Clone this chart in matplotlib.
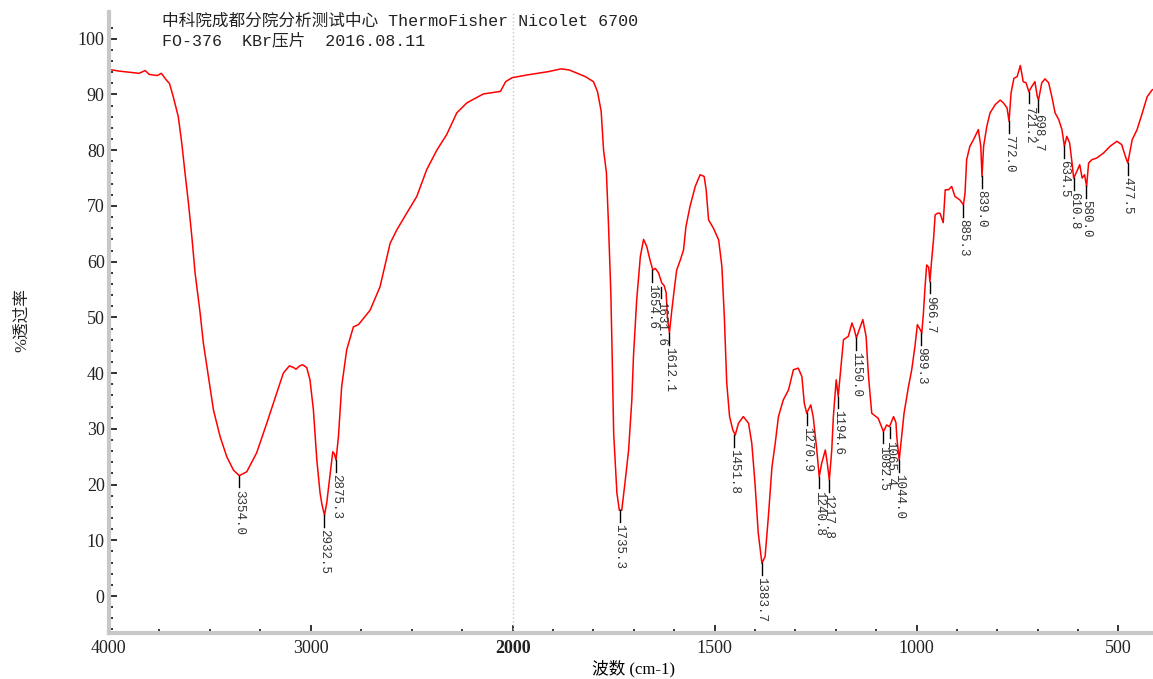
import numpy as np
import matplotlib
matplotlib.use("Agg")
import matplotlib.pyplot as plt
from matplotlib.ticker import FixedLocator

plt.rcParams['font.family'] = ['Liberation Mono', 'Noto Sans CJK SC', 'DejaVu Sans']

# spectrum (wavenumber cm-1, %T)
wavenumber = [4000, 3950, 3900, 3850, 3820, 3800, 3760, 3740, 3713, 3700, 3681, 3656, 3639, 3623,
              3606, 3589, 3573, 3548, 3532, 3507, 3482, 3449, 3416, 3383, 3354, 3317, 3268, 3218,
              3169, 3136, 3106, 3085, 3073, 3055, 3040, 3020, 3004, 2987, 2970, 2954, 2945, 2932,
              2921, 2904, 2891, 2883, 2875, 2863, 2847, 2822, 2789, 2764, 2706, 2657, 2607, 2574,
              2525, 2475, 2426, 2376, 2327, 2277, 2227, 2145, 2071, 2060, 2035, 2004, 1965, 1912,
              1880, 1860, 1840, 1820, 1800, 1790, 1781, 1775, 1768, 1763, 1757, 1754, 1750, 1746,
              1742, 1736, 1730, 1722, 1713, 1705, 1701, 1693, 1684, 1676, 1668, 1660, 1653, 1647,
              1639, 1631, 1625, 1620, 1617, 1612, 1606, 1600, 1594, 1585, 1577, 1571, 1561, 1548,
              1536, 1526, 1521, 1515, 1503, 1490, 1482, 1476, 1470, 1463, 1455, 1449, 1441, 1429,
              1416, 1408, 1400, 1392, 1383, 1375, 1367, 1358, 1350, 1342, 1330, 1317, 1305, 1293,
              1284, 1278, 1272, 1262, 1256, 1247, 1241, 1235, 1226, 1221, 1216, 1210, 1206, 1199,
              1194, 1187, 1181, 1169, 1160, 1154, 1149, 1142, 1133, 1125, 1119, 1111, 1095, 1082,
              1074, 1067, 1057, 1051, 1049, 1043, 1037, 1031, 1020, 1012, 1004, 998, 991, 987,
              983, 979, 975, 970, 967, 963, 958, 954, 948, 942, 934, 929, 921, 913, 905, 893,
              884, 880, 876, 868, 859, 847, 841, 838, 834, 826, 818, 805, 793, 785, 776, 771,
              766, 759, 751, 743, 736, 729, 722, 715, 707, 701, 698, 690, 682, 673, 665, 657,
              648, 640, 634, 628, 621, 615, 611, 605, 596, 590, 584, 579, 574, 566, 554, 537,
              521, 504, 492, 483, 477, 466, 454, 441, 429, 417, 400]
transmittance = [94.5, 94.2, 94.0, 93.8, 94.3, 93.6, 93.4, 93.8, 92.5, 92.0, 89.6, 86.0, 81.3, 76.0,
                 70.6, 64.5, 58.0, 50.8, 45.4, 39.4, 33.4, 28.6, 25.0, 22.6, 21.6, 22.3, 25.7, 31.0,
                 36.4, 40.0, 41.3, 41.0, 40.7, 41.3, 41.5, 41.0, 38.8, 33.4, 24.4, 18.5, 16.5, 14.5,
                 16.7, 22.0, 25.9, 25.5, 24.4, 28.6, 37.6, 44.2, 48.3, 48.7, 51.3, 55.5, 63.3, 65.7,
                 68.7, 71.7, 76.5, 80.0, 82.8, 86.7, 88.5, 90.1, 90.5, 90.6, 92.3, 93.0, 93.5, 94.1,
                 94.6, 94.4, 93.8, 93.2, 92.3, 90.5, 87.0, 80.0, 76.0, 67.0, 54.4, 44.2, 29.2, 23.9,
                 18.5, 15.4, 15.4, 20.3, 26.2, 35.2, 43.0, 53.1, 60.9, 64.0, 62.7, 60.3, 58.5, 58.8,
                 58.0, 56.2, 55.7, 54.4, 50.1, 47.2, 51.3, 55.0, 58.5, 60.3, 62.1, 66.3, 69.9, 73.5,
                 75.6, 75.3, 72.9, 67.5, 66.0, 63.9, 59.1, 50.1, 38.2, 32.2, 29.8, 28.9, 31.0, 32.2,
                 31.0, 27.4, 20.2, 11.3, 5.9, 7.1, 14.2, 23.2, 27.4, 32.2, 35.2, 37.0, 40.6, 40.9,
                 39.4, 34.6, 32.8, 34.3, 32.2, 26.2, 21.4, 23.8, 26.2, 23.8, 20.8, 26.2, 32.2, 38.8,
                 35.8, 41.2, 46.0, 46.6, 49.0, 47.8, 46.3, 47.8, 49.6, 46.6, 39.4, 32.8, 31.9, 29.5,
                 30.7, 30.4, 32.2, 31.1, 28.6, 24.4, 28.6, 32.8, 37.6, 40.6, 44.8, 48.7, 47.8, 47.2,
                 50.8, 55.5, 59.4, 59.0, 56.4, 60.0, 64.0, 68.4, 68.7, 68.7, 67.0, 72.9, 72.9, 73.5,
                 71.7, 71.1, 70.2, 72.3, 78.3, 80.7, 81.9, 83.7, 80.7, 75.3, 80.7, 84.3, 86.7, 88.2,
                 89.0, 88.5, 87.6, 85.2, 90.3, 92.9, 93.2, 95.2, 92.3, 92.1, 90.5, 91.4, 92.3, 89.6,
                 89.0, 92.1, 92.8, 92.1, 89.6, 86.7, 85.5, 83.7, 80.7, 82.5, 81.3, 77.7, 75.0, 75.9,
                 77.4, 75.0, 75.6, 73.5, 77.7, 78.3, 78.6, 79.5, 80.7, 81.6, 81.0, 78.9, 77.7, 81.9,
                 83.7, 86.7, 89.6, 90.8, 91.5]

# labelled peaks
peak_pos = [3354.0, 2932.5, 2875.3, 1735.3, 1654.6, 1631.6, 1612.1, 1451.8, 1383.7, 1270.9,
            1240.8, 1217.8, 1194.6, 1150.0, 1082.5, 1065.4, 1044.0, 989.3, 966.7, 885.3, 839.0,
            772.0, 721.2, 698.7, 634.5, 610.8, 580.0, 477.5]
peak_t = [21.6, 14.5, 24.4, 15.4, 58.5, 55.5, 47.2, 28.9, 5.9, 32.8,
          21.4, 20.8, 35.8, 46.3, 29.5, 30.4, 24.4, 47.2, 56.4, 70.2, 75.3,
          85.2, 90.5, 89.0, 80.7, 75.0, 73.5, 77.7]


def fwd(w):
    w = np.asarray(w, dtype=float)
    return np.where(w > 2000, 2000 + (w - 2000) / 2, w)


def inv(u):
    u = np.asarray(u, dtype=float)
    return np.where(u > 2000, 2000 + (u - 2000) * 2, u)


fig = plt.figure(figsize=(11.53, 6.79), dpi=100)
ax = fig.add_axes([0.0944, 0.0677, 0.9107, 0.9146])
ax.set_xscale('function', functions=(fwd, inv))
ax.set_xlim(4000, 400)
ax.set_ylim(-6.64, 104.8)

ax.axvline(2000, color='#c8c8c8', lw=1, ls=':')
ax.plot(wavenumber, transmittance, color='red', lw=1.1)

for w, t, in zip(peak_pos, peak_t):
    ax.plot([w, w], [t, t - 2.1], color='black', lw=1)
    ax.text(w, t - 2.5, "%.1f" % w, rotation=270, ha='center', va='top',
            fontsize=9, color='#333333')

for s in ['top', 'right']:
    ax.spines[s].set_visible(False)
for s in ['left', 'bottom']:
    ax.spines[s].set_color('#c8c8c8')
    ax.spines[s].set_linewidth(3)

ax.xaxis.set_major_locator(FixedLocator([4000, 3000, 2000, 1500, 1000, 500]))
ax.xaxis.set_minor_locator(FixedLocator(list(range(4000, 2000, -250)) + list(range(2000, 399, -100))))
ax.set_yticks(np.arange(0, 101, 10))
ax.yaxis.set_minor_locator(FixedLocator(np.arange(-6, 104, 2)))
ax.tick_params(which='both', direction='in', color='#222222', width=1.3)
ax.tick_params(which='major', length=6)
ax.tick_params(which='minor', length=3)
ax.tick_params(axis='y', pad=3)
ax.tick_params(axis='x', pad=5)
for lab in ax.get_xticklabels() + ax.get_yticklabels():
    lab.set_family('Liberation Serif')
    lab.set_fontsize(13)
    lab.set_color('#222222')
ax.get_xticklabels()[2].set_fontweight('bold')

ax.set_xlabel("波数 (cm-1)", fontsize=12, family=['Liberation Serif', 'Noto Sans CJK SC'], labelpad=2)
fig.text(0.019, 0.529, "%透过率", rotation=90, ha='center', va='center', fontsize=12,
         family=['Liberation Serif', 'Noto Sans CJK SC'], color='#222222')

fig.text(0.1405, 0.969, "中科院成都分院分析测试中心 ThermoFisher Nicolet 6700", fontsize=12,
         va='center', color='#222222')
fig.text(0.1405, 0.940, "FO-376  KBr压片  2016.08.11", fontsize=12, va='center', color='#222222')

fig.savefig("out.png", dpi=100)
